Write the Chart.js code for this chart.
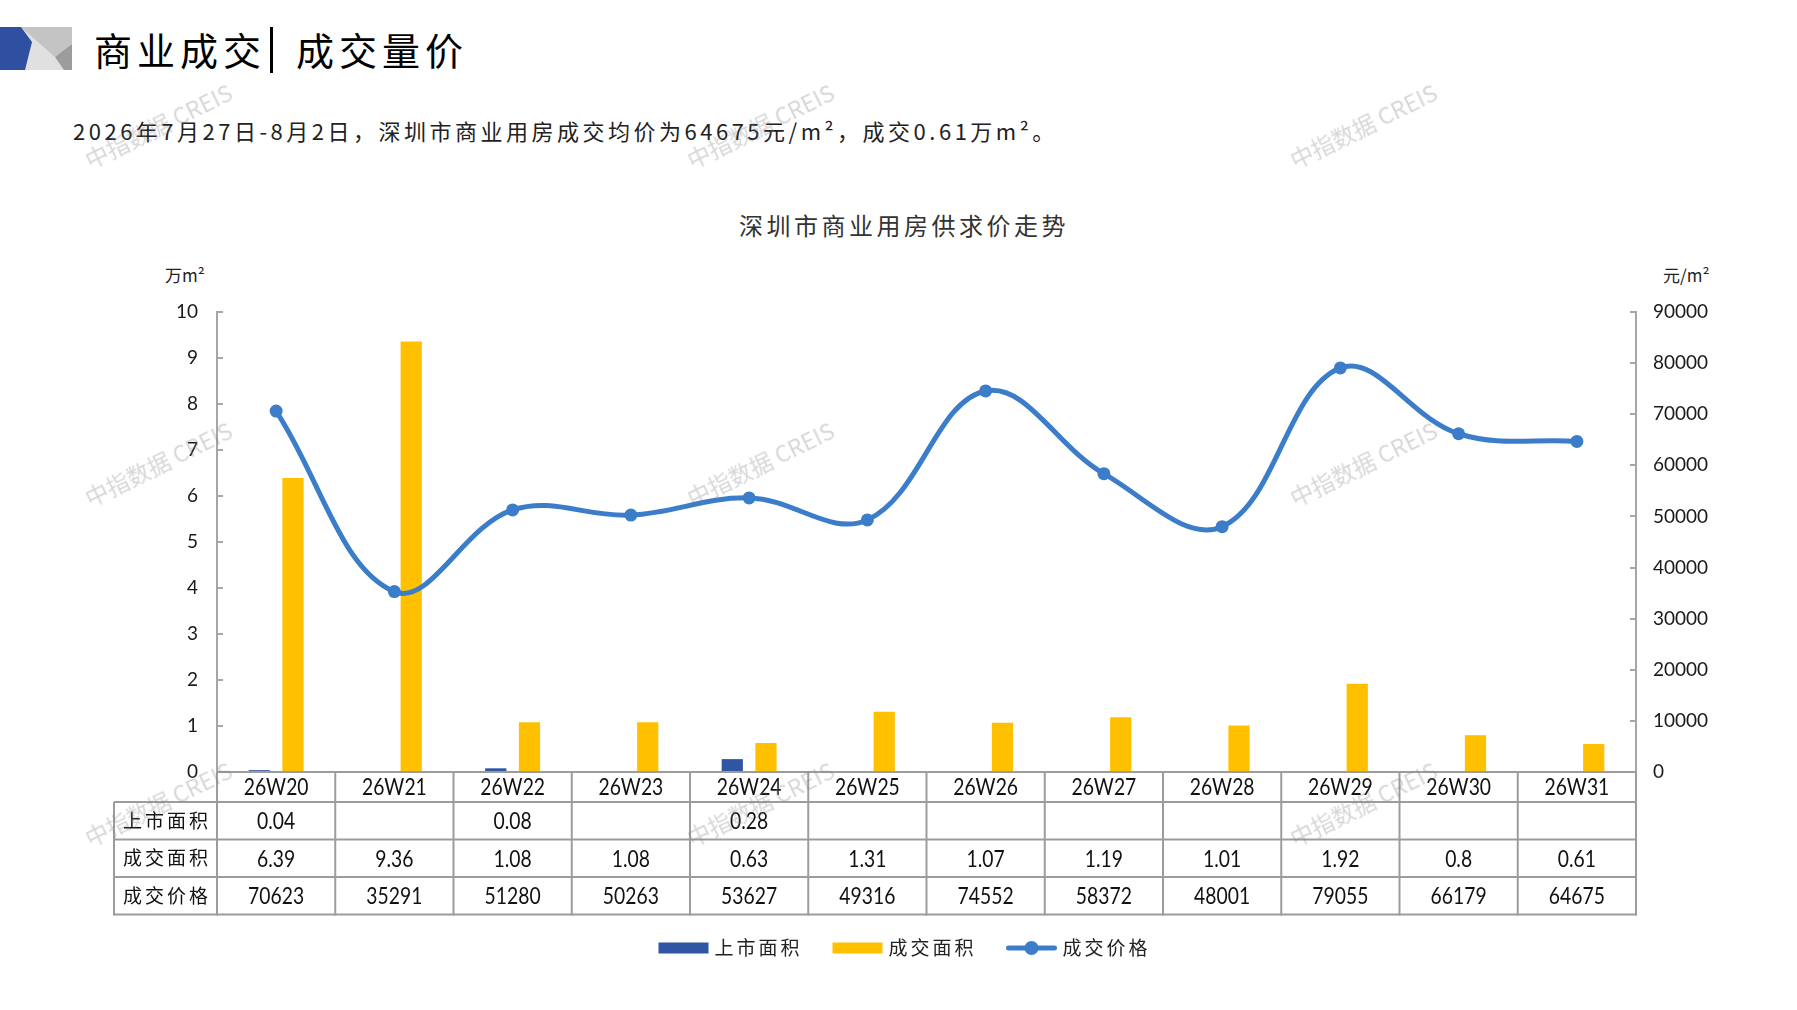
<!DOCTYPE html>
<html>
<head>
<meta charset="utf-8">
<script src="https://cdn.jsdelivr.net/npm/chart.js@4.4.0/dist/chart.umd.min.js"></script>
<style>
html,body{margin:0;padding:0;background:#fff;width:1797px;height:1010px;overflow:hidden;font-family:"Noto Sans CJK SC",sans-serif;}
#c{position:absolute;left:0;top:0;}
.t{position:absolute;white-space:nowrap;color:#111;}
.wm{position:absolute;white-space:nowrap;color:rgba(130,130,130,0.32);font-family:"Noto Sans CJK SC",sans-serif;font-size:23px;transform:translate(-50%,-50%) rotate(-26deg);pointer-events:none;z-index:5;}
</style>
</head>
<body>
<svg style="position:absolute;left:0;top:0" width="80" height="80">
  <rect x="0" y="27" width="72" height="43" fill="#e0e0e0"/>
  <polygon points="21,27 72,27 72,44 55,57" fill="#c4c4c4"/>
  <polygon points="55,57 72,44 72,70 64,70" fill="#9c9c9c"/>
  <polygon points="0,27 21,27 32,42 25,70 0,70" fill="#2f4fa0"/>
</svg>
<div class="t" style="left:94px;top:24px;font-size:38px;line-height:50px;letter-spacing:5px;color:#000">商业成交</div>
<div style="position:absolute;left:270px;top:27px;width:3px;height:46px;background:#000"></div>
<div class="t" style="left:296px;top:24px;font-size:38px;line-height:50px;letter-spacing:5px;color:#000">成交量价</div>
<div class="t" style="left:73px;top:115px;font-size:22px;line-height:30px;letter-spacing:3.5px;color:#222">2026年7月27日-8月2日，深圳市商业用房成交均价为64675元/m²，成交0.61万m²。</div>
<div class="t" style="left:904px;top:210px;transform:translateX(-50%);font-size:24px;line-height:30px;letter-spacing:3.5px;color:#333">深圳市商业用房供求价走势</div>
<div class="t" style="left:165px;top:263px;font-size:17px;line-height:24px;color:#222">万m²</div>
<div class="t" style="left:1663px;top:263px;font-size:17px;line-height:24px;color:#222">元/m²</div>
<canvas id="c" width="1797" height="1010"></canvas>
<div class="wm" style="left:158px;top:125px">中指数据 CREIS</div>
<div class="wm" style="left:760px;top:125px">中指数据 CREIS</div>
<div class="wm" style="left:1363px;top:125px">中指数据 CREIS</div>
<div class="wm" style="left:158px;top:463px">中指数据 CREIS</div>
<div class="wm" style="left:760px;top:463px">中指数据 CREIS</div>
<div class="wm" style="left:1363px;top:463px">中指数据 CREIS</div>
<div class="wm" style="left:158px;top:803px">中指数据 CREIS</div>
<div class="wm" style="left:760px;top:803px">中指数据 CREIS</div>
<div class="wm" style="left:1363px;top:803px">中指数据 CREIS</div>
<script>
const categories = ['26W20','26W21','26W22','26W23','26W24','26W25','26W26','26W27','26W28','26W29','26W30','26W31'];
const supplyArea = [0.04, null, 0.08, null, 0.28, null, null, null, null, null, null, null];
const dealArea = [6.39, 9.36, 1.08, 1.08, 0.63, 1.31, 1.07, 1.19, 1.01, 1.92, 0.8, 0.61];
const dealPrice = [70623, 35291, 51280, 50263, 53627, 49316, 74552, 58372, 48001, 79055, 66179, 64675];
const seriesNames = ['上市面积', '成交面积', '成交价格'];
const rowLabels = ['上市面积', '成交面积', '成交价格'];
const areaAxis = {min: 0, max: 10, step: 1};
const priceAxis = {min: 0, max: 90000, step: 10000};

const COLORS = {supply: '#2f55a4', deal: '#ffc000', price: '#3b7dc9', axis: '#a6a6a6', grid: '#9c9c9c'};
const TABLE_LEFT = 114;
const ROW_H = [30, 37.5, 37.5, 37.5];

function fmt(v){ return v == null ? '' : String(v); }

const overlay = {
  id: 'overlay',
  afterDraw(chart) {
    const ctx = chart.ctx;
    const ca = chart.chartArea;
    const xs = chart.scales.x;
    const n = categories.length;
    const cw = (ca.right - ca.left) / n;
    ctx.save();
    ctx.strokeStyle = COLORS.axis;
    ctx.lineWidth = 2;
    const ys = chart.scales.y, y1 = chart.scales.y1;
    ys.ticks.forEach((t, i) => {
      const p = Math.round(ys.getPixelForTick(i));
      ctx.beginPath(); ctx.moveTo(ca.left, p); ctx.lineTo(ca.left + 6, p); ctx.stroke();
    });
    y1.ticks.forEach((t, i) => {
      const p = Math.round(y1.getPixelForTick(i));
      ctx.beginPath(); ctx.moveTo(ca.right, p); ctx.lineTo(ca.right - 6, p); ctx.stroke();
    });
    const rows = [ca.bottom];
    ROW_H.forEach(h => rows.push(rows[rows.length - 1] + h));
    ctx.strokeStyle = COLORS.grid;
    ctx.lineWidth = 2;
    ctx.beginPath(); ctx.moveTo(ca.left, rows[0]); ctx.lineTo(ca.right, rows[0]); ctx.stroke();
    for (let r = 1; r < rows.length; r++) {
      ctx.beginPath(); ctx.moveTo(TABLE_LEFT, rows[r]); ctx.lineTo(ca.right + 1, rows[r]); ctx.stroke();
    }
    ctx.beginPath(); ctx.moveTo(TABLE_LEFT, rows[1]); ctx.lineTo(TABLE_LEFT, rows[4] + 1); ctx.stroke();
    for (let i = 0; i <= n; i++) {
      const x = ca.left + i * cw;
      ctx.beginPath(); ctx.moveTo(x, rows[0]); ctx.lineTo(x, rows[4] + 1); ctx.stroke();
    }
    ctx.fillStyle = '#111';
    ctx.textAlign = 'center';
    ctx.textBaseline = 'middle';
    const drawNum = (txt, x, y) => {
      ctx.save(); ctx.translate(x, y); ctx.scale(0.84, 1);
      ctx.font = '23px Lato, "Noto Sans CJK SC", sans-serif';
      ctx.fillText(txt, 0, 1); ctx.restore();
    };
    const tableRows = [supplyArea, dealArea, dealPrice];
    categories.forEach((c, i) => {
      const x = xs.getPixelForValue(i);
      drawNum(c, x, (rows[0] + rows[1]) / 2);
      tableRows.forEach((arr, r) => drawNum(fmt(arr[i]), x, (rows[r + 1] + rows[r + 2]) / 2));
    });
    ctx.font = '19px "Noto Sans CJK SC", sans-serif';
    try { ctx.letterSpacing = '3px'; } catch (e) {}
    rowLabels.forEach((l, r) => {
      ctx.fillText(l, (TABLE_LEFT + ca.left) / 2 + 1.5, (rows[r + 1] + rows[r + 2]) / 2);
    });
    const boxW = 50, gap = 6, itemGap = 30, cy = 948;
    ctx.textAlign = 'left';
    const widths = seriesNames.map(s => ctx.measureText(s).width);
    let total = 0;
    widths.forEach(w => total += boxW + gap + w);
    total += itemGap * (seriesNames.length - 1);
    let x = (ca.left + ca.right) / 2 - total / 2 - 22;
    const ds = chart.data.datasets;
    seriesNames.forEach((s, i) => {
      if (ds[i].type === 'line') {
        ctx.strokeStyle = ds[i].borderColor; ctx.lineWidth = 5; ctx.lineCap = 'round';
        ctx.beginPath(); ctx.moveTo(x + 2, cy); ctx.lineTo(x + boxW - 2, cy); ctx.stroke();
        ctx.fillStyle = ds[i].borderColor;
        ctx.beginPath(); ctx.arc(x + boxW / 2, cy, 7, 0, Math.PI * 2); ctx.fill();
      } else {
        ctx.fillStyle = ds[i].backgroundColor;
        ctx.fillRect(x, cy - 5.5, boxW, 11);
      }
      ctx.fillStyle = '#222';
      ctx.fillText(s, x + boxW + gap, cy);
      x += boxW + gap + widths[i] + itemGap;
    });
    ctx.restore();
  }
};

new Chart(document.getElementById('c'), {
  type: 'bar',
  data: {
    labels: categories,
    datasets: [
      {type: 'bar', label: seriesNames[0], data: supplyArea, backgroundColor: COLORS.supply, yAxisID: 'y', order: 1, barPercentage: 0.63, categoryPercentage: 0.57},
      {type: 'bar', label: seriesNames[1], data: dealArea, backgroundColor: COLORS.deal, yAxisID: 'y', order: 2, barPercentage: 0.63, categoryPercentage: 0.57},
      {type: 'line', label: seriesNames[2], data: dealPrice, borderColor: COLORS.price, backgroundColor: COLORS.price, borderWidth: 5, pointRadius: 6.5, pointBackgroundColor: COLORS.price, pointBorderWidth: 0, tension: 0.38, yAxisID: 'y1', order: 0}
    ]
  },
  options: {
    responsive: false,
    animation: false,
    layout: {padding: {top: 312, bottom: 238, left: 0, right: 0}},
    plugins: {legend: {display: false}, tooltip: {enabled: false}, title: {display: false}},
    scales: {
      x: {display: false, offset: true},
      y: {
        type: 'linear', position: 'left', min: areaAxis.min, max: areaAxis.max,
        ticks: {stepSize: areaAxis.step, padding: 19, color: '#1a1a1a', font: {family: 'Lato', size: 19}, callback: v => String(v)},
        grid: {drawOnChartArea: false, drawTicks: false},
        border: {color: COLORS.axis, width: 2},
        afterFit(s) { s.width = 217; }
      },
      y1: {
        type: 'linear', position: 'right', min: priceAxis.min, max: priceAxis.max,
        ticks: {stepSize: priceAxis.step, padding: 17, color: '#1a1a1a', font: {family: 'Lato', size: 19}, callback: v => String(v)},
        grid: {drawOnChartArea: false, drawTicks: false},
        border: {color: COLORS.axis, width: 2},
        afterFit(s) { s.width = 161; }
      }
    }
  },
  plugins: [overlay]
});
</script>
</body>
</html>
